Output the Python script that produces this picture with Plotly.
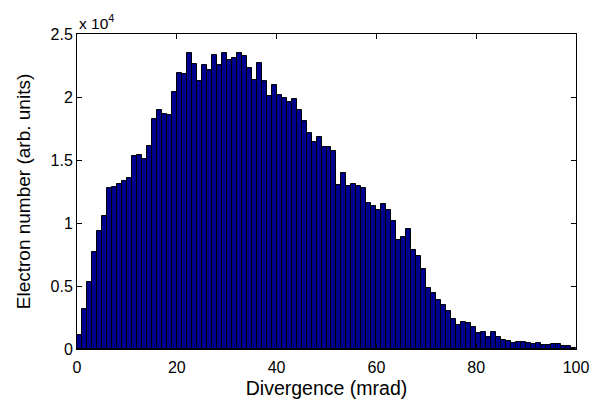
import plotly.graph_objects as go

# Histogram bins (mrad): left edges, width 1
bin_left = list(range(0, 100))

# Electron counts per bin
counts = [
    1100, 3210, 5340, 7680, 9370, 10580, 12760, 12820, 13130, 13340,
    13550, 15320, 15390, 15050, 16130, 18290, 18950, 18680, 18550, 20420,
    21890, 21790, 23500, 22600, 21260, 22550, 22180, 23340, 22550, 23500,
    22970, 23110, 23530, 23290, 22320, 21320, 22680, 21260, 20080, 20920,
    20130, 19920, 19630, 19870, 19000, 18110, 17160, 16450, 16790, 16000,
    16000, 15740, 13030, 14000, 12950, 13080, 12970, 12760, 11580, 11320,
    11000, 11530, 11000, 10130, 8630, 8890, 9550, 7890, 7370, 6320,
    4870, 4470, 3870, 3470, 3030, 2370, 1890, 2180, 2100, 1710,
    1240, 1320, 920, 1370, 920, 710, 630, 470, 580, 530,
    470, 370, 470, 320, 340, 420, 420, 210, 210, 100,
]

x_ticks = [0, 20, 40, 60, 80, 100]
y_ticks = [0, 5000, 10000, 15000, 20000, 25000]
y_tick_text = ["0", "0.5", "1", "1.5", "2", "2.5"]

FONT = "Liberation Sans, Arial, Helvetica, sans-serif"

fig = go.Figure(
    go.Bar(
        x=bin_left,
        y=counts,
        width=1,
        offset=0,
        marker=dict(color="rgb(0,0,143)", line=dict(color="black", width=1)),
    )
)

fig.update_layout(
    width=600,
    height=407,
    margin=dict(l=77, r=24, t=34, b=58),
    paper_bgcolor="white",
    plot_bgcolor="white",
    bargap=0,
    showlegend=False,
    font=dict(family=FONT, size=16, color="black"),
)

fig.update_xaxes(
    range=[0, 100],
    tickvals=x_ticks,
    ticks="inside",
    ticklen=5,
    tickcolor="black",
    showline=True,
    linecolor="black",
    linewidth=1,
    mirror="ticks",
    showgrid=False,
    zeroline=False,
    tickfont=dict(size=16),
    ticklabelstandoff=4,
    title=dict(text="Divergence (mrad)", font=dict(size=19.5), standoff=6),
)

fig.update_yaxes(
    range=[0, 25000],
    tickvals=y_ticks,
    ticktext=y_tick_text,
    ticks="inside",
    ticklen=5,
    tickcolor="black",
    showline=True,
    linecolor="black",
    linewidth=1,
    mirror="ticks",
    showgrid=False,
    zeroline=False,
    tickfont=dict(size=16),
    title=dict(text="Electron number (arb. units)", font=dict(size=19), standoff=14),
)

fig.add_annotation(
    xref="paper", yref="paper",
    x=0, y=1, xanchor="left", yanchor="bottom",
    text="x 10<sup>4</sup>",
    showarrow=False,
    font=dict(family=FONT, size=15.5, color="black"),
)

fig.write_html(
    "out.html",
    config={"displayModeBar": False},
    post_script="document.body.style.margin='0';document.body.style.padding='0';",
)
